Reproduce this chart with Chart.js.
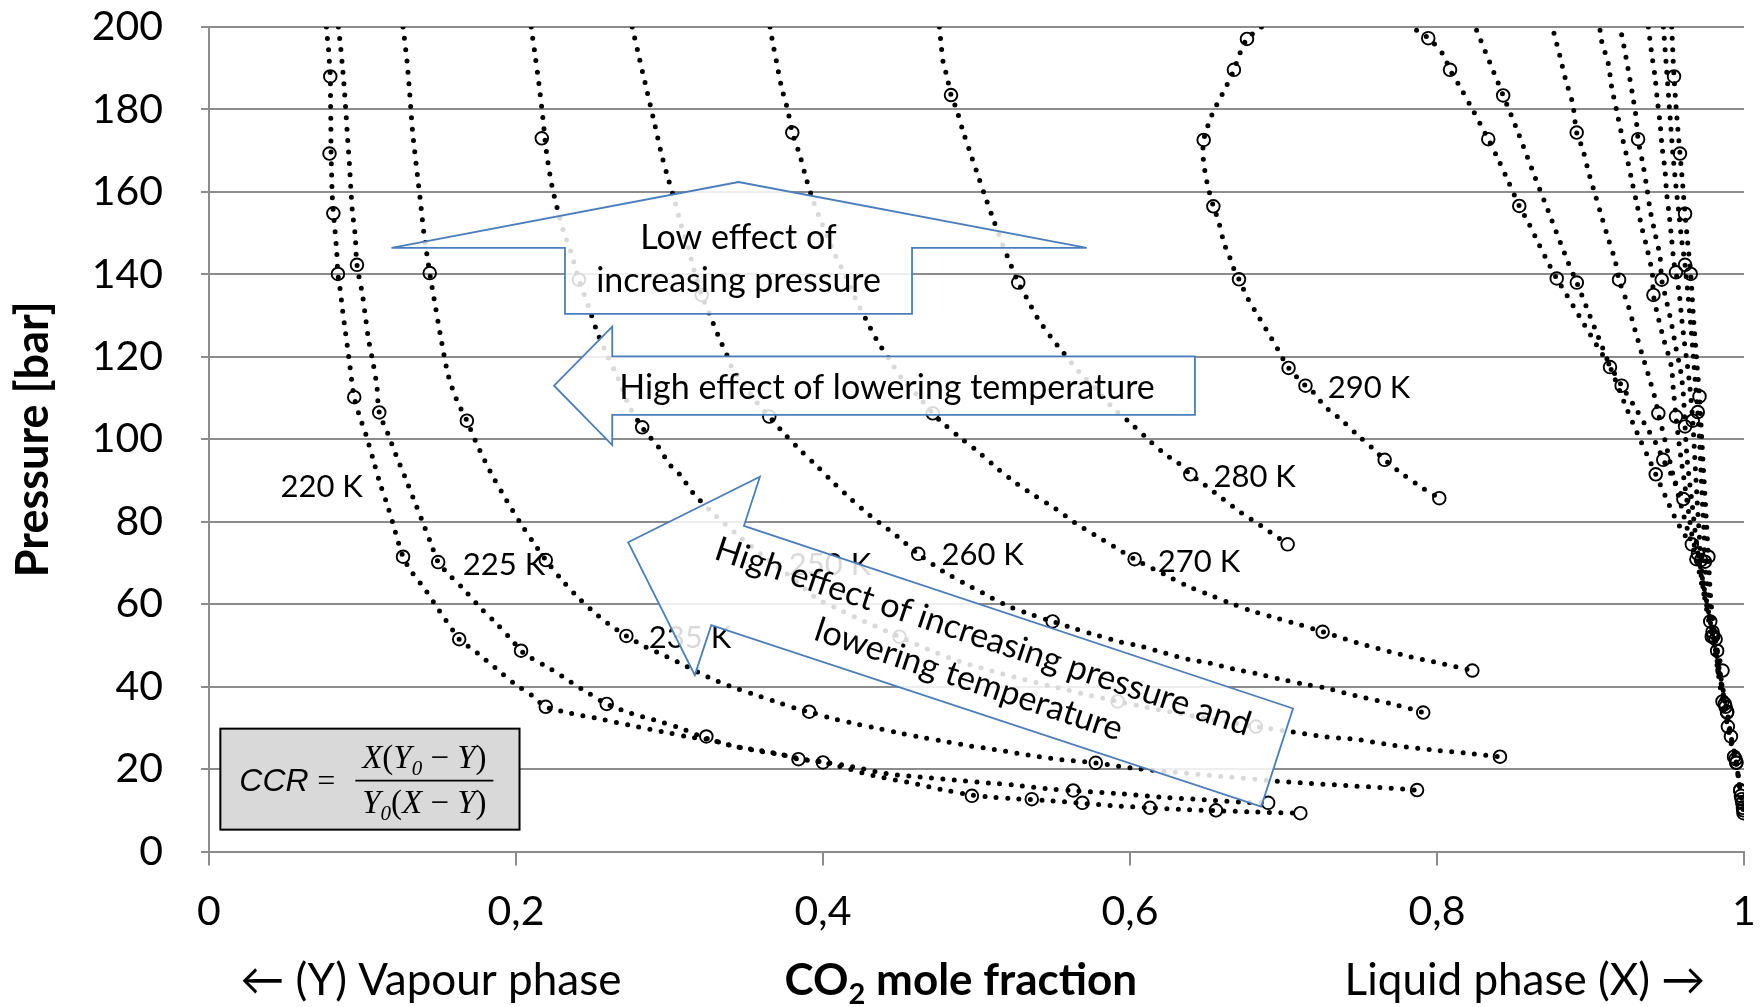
<!DOCTYPE html>
<html><head><meta charset="utf-8">
<script src="https://cdn.jsdelivr.net/npm/chart.js@4.4.1/dist/chart.umd.min.js"></script>
<style>html,body{margin:0;padding:0;background:#fff;}#wrap{width:1763px;height:1007px;position:relative;}canvas{display:block;}</style>
</head><body><div id="wrap"><canvas id="c" width="1763" height="1007"></canvas></div>
<script>
// ---------- DATA (x = CO2 mole fraction, p = pressure in bar) ----------
const temperatures = ['220 K','225 K','235 K','250 K','260 K','270 K','280 K','290 K'];
const xTicks = [0,0.2,0.4,0.6,0.8,1];
const yTicks = [0,20,40,60,80,100,120,140,160,180,200];

// vapour branch, model (dotted line)
const vap220Line = [[.0765,200],[.0772,197],[.078,194],[.0785,191],[.079,188],[.0792,182],[.0794,176],[.0795,170],[.0799,164],[.0803,159],[.081,155],[.082,151],[.0832,145.5],[.084,140],[.0852,137],[.087,131.4],[.089,125.7],[.091,120.1],[.093,114.2],[.0946,110.2],[.0978,105.9],[.1026,100.7],[.107,95],[.1114,89.3],[.1164,83.8],[.1207,78.4],[.1264,71.5],[.1319,67.9],[.1413,63.3],[.15,58.4],[.1588,53.7],[.163,51.5],[.175,48.1],[.1867,44.5],[.1987,40.8],[.2112,37.6],[.2194,35.1],[.231,33.9],[.254,32.2],[.276,30.5],[.299,28.8],[.314,27.7],[.324,27.3],[.344,25.4],[.367,24],[.384,22.6],[.40,21.6],[.411,20.6],[.434,18.3],[.457,16.7],[.479,14.9],[.497,13.7],[.51,13.2],[.526,12.8],[.545,12.4],[.569,11.7],[.59,11.1],[.613,10.6],[.635,10.2],[.656,9.9],[.68,9.6],[.711,9.3]];
const vap225Line = [[.0843,200],[.0857,195.3],[.0872,189.4],[.0884,183.7],[.0894,178.1],[.0904,172.4],[.0915,166.6],[.0924,160.9],[.0934,155.3],[.0952,149.6],[.0964,142.3],[.0999,135.2],[.1019,129.8],[.1039,124.3],[.1069,118.5],[.1094,112.8],[.1109,106.5],[.1164,101.5],[.1218,96.2],[.1276,90.9],[.1331,85.7],[.1388,80.3],[.1444,74.9],[.1493,70.2],[.155,67.7],[.1663,63.5],[.1763,59.3],[.1875,55.2],[.1975,51.2],[.2033,48.7],[.21,46.9],[.2217,44.5],[.2354,41.2],[.2481,38.2],[.2591,35.8],[.275,33.5],[.29,31.9],[.306,30.1],[.318,28.3],[.336,26.1],[.359,24.3],[.374,23.4],[.384,22.4],[.40,21.7],[.419,20.6],[.441,18.9],[.463,18.1],[.486,17.3],[.509,16.6],[.525,16.1],[.547,15.2],[.563,14.8],[.594,14],[.624,13.1],[.655,12.4],[.677,11.9],[.69,11.8]];
const vap235Line = [[.1264,200],[.1289,192],[.1309,183.2],[.1326,174.7],[.1351,166.2],[.1376,158.1],[.14,150],[.1438,140.3],[.1475,132.2],[.1513,124.1],[.1558,115.6],[.1613,109.6],[.168,104.5],[.1738,99.4],[.1837,91.8],[.1937,85.3],[.2037,79.2],[.2124,74.4],[.2194,70.7],[.23,65.8],[.24,61.8],[.25,58.3],[.26,55.3],[.2719,52.3],[.284,49.7],[.298,47.3],[.311,44.9],[.3253,42.3],[.34,40],[.3546,38.2],[.3687,36.4],[.384,34.5],[.391,33.9],[.4057,32.3],[.4198,31.1],[.435,29.9],[.45,28.7],[.4654,27.6],[.4806,26.6],[.4958,25.6],[.511,24.8],[.5337,23.4],[.555,22.3],[.5777,21.5],[.602,20.2],[.63,19.2],[.66,18.2],[.694,17.1],[.717,16.5],[.741,16],[.763,15.5],[.787,14.9]];
const vap250Line = [[.2099,200],[.2125,193],[.215,186],[.2175,178],[.2198,169.8],[.2233,161.7],[.227,155.8],[.231,150.4],[.236,145.2],[.241,138.7],[.248,131.4],[.253,125.9],[.259,120.7],[.266,115.2],[.274,107.9],[.2822,102.9],[.2873,100.5],[.2927,98.2],[.3003,93.8],[.3068,91.4],[.3155,86.9],[.33,81.5],[.345,76.6],[.36,72],[.375,67.8],[.39,63.2],[.396,61.3],[.411,58.6],[.427,55.8],[.4498,52.1],[.47,48.8],[.49,46],[.51,43.8],[.53,41.8],[.55,40],[.57,38.2],[.592,36.4],[.61,35],[.63,33.6],[.65,32.3],[.665,31.3],[.682,30.3],[.704,29.1],[.726,27.9],[.749,27.1],[.771,25.8],[.798,24.6],[.8205,23.8],[.841,23.0]];
const vap260Line = [[.2757,200],[.28,193],[.285,185],[.29,177],[.295,168.8],[.299,163.4],[.3035,157.7],[.3075,152],[.312,146.8],[.316,141.1],[.321,135],[.326,130.4],[.332,124.9],[.338,119.9],[.341,117.2],[.348,113.6],[.354,110.4],[.359,107.9],[.365,105.5],[.3744,101.5],[.385,97.4],[.396,93.5],[.4067,89.5],[.4177,85.7],[.43,81.7],[.4485,76.4],[.462,72.2],[.4785,67.9],[.492,65.1],[.5046,62.6],[.519,59.8],[.533,57.8],[.5496,55.8],[.563,54.2],[.578,52.5],[.593,50.9],[.608,49.7],[.623,48.1],[.638,46.6],[.652,45.7],[.667,44.3],[.683,43.1],[.698,41.8],[.713,40.6],[.728,39.6],[.749,37.6],[.771,35.8],[.791,33.7]];
const vap270Line = [[.3655,200],[.367,196.7],[.37,191],[.373,185.4],[.377,179.9],[.380,174.4],[.385,168.8],[.389,163.3],[.3935,158],[.399,152.6],[.408,144.6],[.415,139.5],[.421,134.2],[.428,129.1],[.435,124.1],[.443,119.5],[.452,114.4],[.462,110.4],[.4715,106.3],[.477,104.3],[.4897,100.3],[.5016,96.8],[.5134,93],[.526,89.3],[.538,86.3],[.551,83.3],[.564,79.8],[.577,76.8],[.5895,74],[.603,70.9],[.623,67.1],[.638,64.3],[.652,62.2],[.6656,60.2],[.6805,58.2],[.6955,56.6],[.7105,55],[.7255,53.3],[.753,50.1],[.782,47.3],[.8127,44.8],[.823,43.9]];
const vap280Line = [[.4758,200],[.4767,196.7],[.4784,191.1],[.4806,188.3],[.4834,183.5],[.4871,179.9],[.4914,174.5],[.4962,169.2],[.5012,163.7],[.5062,158.3],[.5114,152.9],[.5166,147.6],[.5225,142.2],[.5272,138],[.5322,134.6],[.5398,129.4],[.5485,124.8],[.5533,122.5],[.5627,118.2],[.5679,115.9],[.5783,112],[.5891,107.5],[.6005,103.9],[.612,99.9],[.6234,96.2],[.6303,94.6],[.6393,91.5],[.6474,89.3],[.6537,87.5],[.66,85.7],[.672,82.3],[.685,79.1],[.6977,75.8],[.7027,74.5]];
const vap290Line = [[.6856,200],[.6762,197.1],[.6717,193.7],[.6677,189.6],[.6627,185.6],[.6558,180.6],[.6525,177.9],[.65,175.2],[.648,172.6],[.6475,169.8],[.648,167],[.6492,164.2],[.6508,161.3],[.6543,156.5],[.6576,153],[.6614,147.4],[.6645,144.6],[.667,141.9],[.671,138.8],[.6767,134.2],[.6843,129.4],[.6924,124.3],[.6962,121.9],[.7033,117.3],[.7143,113],[.7199,111.2],[.725,108.8],[.7306,106.7],[.7365,105.1],[.748,101.1],[.7595,97.3],[.7659,95],[.7781,91.4],[.7908,88.1],[.8015,85.7]];

// vapour branch, measured (open circles)
const vap220Pts = [[.079,188],[.0785,169.3],[.081,154.8],[.084,140.1],[.0946,110.2],[.1264,71.5],[.163,51.5],[.2194,35.1],[.324,27.9],[.40,21.6],[.497,13.5],[.536,12.7],[.569,11.8],[.613,10.6],[.656,10.0],[.711,9.3]];
const vap225Pts = [[.0964,142.3],[.1109,106.5],[.1493,70.2],[.2033,48.7],[.2591,35.8],[.384,22.4],[.563,14.8],[.69,11.8]];
const vap235Pts = [[.1438,140.3],[.168,104.5],[.2194,70.7],[.2719,52.3],[.391,33.9],[.5777,21.5],[.787,14.9]];
const vap250Pts = [[.2168,173],[.241,138.7],[.2822,102.9],[.4498,52.1],[.592,36.4],[.682,30.3],[.841,23.0]];
const vap260Pts = [[.321,135],[.365,105.5],[.462,72.2],[.5496,55.8],[.791,33.7]];
const vap270Pts = [[.380,174.4],[.4715,106.3],[.603,70.9],[.7255,53.3],[.823,43.9]];
const vap280Pts = [[.4834,183.5],[.5272,138],[.6393,91.5],[.7027,74.5]];
const vap290Pts = [[.6762,197.1],[.6677,189.6],[.648,172.6],[.6543,156.5],[.671,138.8],[.7033,117.3],[.7143,113],[.7659,95],[.8015,85.7]];

// liquid branch, model (dotted line)
const liq220Line = [[.9529,200],[.9544,188],[.9563,178],[.9583,169.3],[.96,162],[.9616,154.7],[.9635,147],[.9653,140.1],[.967,130],[.969,120],[.971,110.4],[.9725,100],[.974,90],[.9755,80],[.9768,71.5],[.978,63],[.980,55],[.9815,51.5],[.984,44],[.9865,37],[.988,35.1],[.990,30.5],[.9915,27.9],[.994,23.5],[.995,21.6],[.997,16.5],[.998,13.5],[.9985,12.7],[.999,11.8],[.9993,10.6],[.9995,10],[.9997,9.3]];
const liq225Line = [[.9475,200],[.9495,190],[.9515,180],[.9535,170],[.9555,162],[.9575,155],[.9595,148],[.9616,142.3],[.9635,135],[.9655,127],[.967,120],[.9685,113],[.9699,106.6],[.971,100],[.972,92],[.973,84],[.974,77],[.9745,70.3],[.977,62],[.9795,55],[.9825,48.7],[.985,42],[.9875,35.8],[.990,30],[.9925,26],[.9945,22.4],[.9965,17.5],[.9975,14.8],[.9985,12.8],[.999,11.8]];
const liq235Line = [[.9377,200],[.9398,193.7],[.942,188],[.9435,182.4],[.9453,176.7],[.9466,171],[.9485,165.4],[.9496,159.7],[.9514,154],[.9529,148.4],[.9544,142.7],[.9557,140.5],[.9579,135],[.9594,129.4],[.9611,123.7],[.9631,118],[.9648,112.4],[.9666,104.5],[.968,95],[.9695,85],[.971,76],[.972,70.7],[.974,64],[.9775,57],[.980,52.3],[.983,45],[.986,39],[.989,33.9],[.9915,28],[.994,23.5],[.995,21.5],[.9965,17.5],[.9975,14.9]];
const liq250Line = [[.9203,198.1],[.9218,195.3],[.9246,189.6],[.9272,184],[.9296,178.3],[.931,172.8],[.934,167],[.9366,161.3],[.9388,155.7],[.942,150],[.9453,144.3],[.9464,138.7],[.9496,133.4],[.9529,127.8],[.9557,122.1],[.9588,116.4],[.9605,110.8],[.9616,103.1],[.963,95],[.966,85],[.969,75],[.9725,66],[.976,58],[.979,52.1],[.9825,45],[.986,36.4],[.9895,30.3],[.9915,26.5],[.9935,23]];
const liq260Line = [[.9062,199.2],[.9073,196.5],[.9116,191.1],[.9138,185.4],[.917,179.8],[.9203,173.9],[.9236,168.6],[.9268,162.9],[.9301,157.3],[.9333,151.6],[.937,146],[.9403,140.1],[.941,135],[.9442,129.4],[.9481,123.7],[.9525,118],[.954,112],[.9557,105.5],[.958,98],[.961,90],[.964,82],[.967,75],[.970,72.2],[.9735,65],[.9765,59],[.978,55.8],[.981,50],[.984,44],[.9865,39],[.989,33.7]];
const liq270Line = [[.8762,198.5],[.8801,192.9],[.8838,187.2],[.8884,181.4],[.891,174.4],[.8949,170.4],[.8986,165],[.9029,159.5],[.9073,154],[.9116,148.6],[.916,143.4],[.9186,138.7],[.9247,132.2],[.929,126.5],[.9333,121],[.9377,115.6],[.942,110],[.9442,106.3],[.949,99],[.954,91],[.959,84],[.964,77],[.969,70.9],[.9735,63],[.9775,57],[.9795,53.3],[.9835,47.5],[.986,43.9]];
const liq280Line = [[.8258,199.2],[.8345,191.3],[.8431,183.4],[.852,175.2],[.8628,164.6],[.874,153.9],[.885,143.3],[.8911,138],[.899,130.5],[.907,123],[.915,115.5],[.923,108],[.931,101],[.939,94.5],[.9425,91.5],[.949,86],[.955,81],[.961,77],[.966,74.5]];
const liq290Line = [[.7867,199.2],[.7943,197.3],[.8037,193.5],[.8085,189.6],[.8145,185.8],[.8221,180.7],[.829,175.9],[.8334,172.8],[.8395,168.2],[.846,162.9],[.8536,156.6],[.8595,152.6],[.866,147.6],[.8732,142.3],[.878,139],[.8845,135],[.8925,130],[.9003,125.1],[.9084,120.2],[.9127,117.8],[.9203,113],[.9286,108],[.9362,103.1],[.9435,98.4],[.9474,95],[.9539,90.6],[.9605,85.5]];

// liquid branch, measured (open circles)
const liq220Pts = [[.9544,188],[.9583,169.3],[.9616,154.7],[.9653,140.1],[.971,110.4],[.9768,71.5],[.9815,51.5],[.988,35.1],[.9915,27.9],[.995,21.6],[.998,13.5],[.9985,12.7],[.999,11.8],[.9993,10.6],[.9995,10],[.9997,9.3]];
const liq225Pts = [[.9616,142.3],[.9699,106.6],[.9745,70.3],[.9825,48.7],[.9875,35.8],[.9945,22.4],[.9975,14.8],[.999,11.8]];
const liq235Pts = [[.9557,140.5],[.9666,104.5],[.972,70.7],[.980,52.3],[.989,33.9],[.995,21.5],[.9975,14.9]];
const liq250Pts = [[.931,172.8],[.9464,138.7],[.9616,103.1],[.979,52.1],[.986,36.4],[.9895,30.3],[.9935,23]];
const liq260Pts = [[.941,135],[.9557,105.5],[.970,72.2],[.978,55.8],[.989,33.7]];
const liq270Pts = [[.891,174.4],[.9186,138.7],[.9442,106.3],[.969,70.9],[.9795,53.3],[.986,43.9]];
const liq280Pts = [[.8431,183.4],[.8911,138],[.9425,91.5],[.966,74.5]];
const liq290Pts = [[.7943,197.3],[.8085,189.6],[.8334,172.8],[.8536,156.6],[.878,139],[.9127,117.5],[.9203,113],[.9474,95],[.9605,85.5]];

// ---------- LAYOUT / ANNOTATION (positions in axis units) ----------
const modelLines = [vap220Line,vap225Line,vap235Line,vap250Line,vap260Line,vap270Line,vap280Line,vap290Line,
                    liq220Line,liq225Line,liq235Line,liq250Line,liq260Line,liq270Line,liq280Line,liq290Line];
const measured = [vap220Pts,vap225Pts,vap235Pts,vap250Pts,vap260Pts,vap270Pts,vap280Pts,vap290Pts,
                  liq220Pts,liq225Pts,liq235Pts,liq250Pts,liq260Pts,liq270Pts,liq280Pts,liq290Pts];
const labelPos = [[.0734,88.5],[.1922,69.5],[.3134,51.7],[.4046,69.5],[.504,71.9],[.645,70.3],[.6812,90.9],[.7557,112.4]];

const arrowUp = [[.1189,146.4],[.345,162.4],[.5718,146.4],[.458,146.4],[.458,130.4],[.2319,130.4],[.2319,146.4]];
const arrowLeft = [[.2248,113],[.2627,127.3],[.2627,120.1],[.6423,120.1],[.6423,105.9],[.2627,105.9],[.2627,98.6]];
const arrowDiag = [[.2731,75],[.3589,90.9],[.3485,79],[.7062,34.7],[.6855,10.9],[.3272,54.9],[.3165,42.8]];

const toXY = a => a.map(([x,y]) => ({x, y}));
const datasets = [];
modelLines.forEach(d => datasets.push({
  data: toXY(d), showLine: true, borderColor: '#000', borderWidth: 5,
  borderDash: [0, 11.4], borderCapStyle: 'round', pointRadius: 0, pointHoverRadius: 0, tension: 0.3, fill: false
}));
measured.forEach(d => datasets.push({
  data: toXY(d), showLine: false, pointStyle: 'circle', pointRadius: 6.3, pointBorderWidth: 1.9,
  pointBorderColor: '#000', pointBackgroundColor: 'rgba(0,0,0,0)', borderColor: '#000'
}));

const FONT = 'Lato';
const annot = {
  id: 'annot',
  afterDatasetsDraw(chart) {
    const ctx = chart.ctx, sx = chart.scales.x, sy = chart.scales.y;
    const X = v => sx.getPixelForValue(v), Y = v => sy.getPixelForValue(v);
    ctx.save();
    // temperature labels
    ctx.fillStyle = '#000'; ctx.textAlign = 'center'; ctx.textBaseline = 'middle';
    ctx.font = '31px ' + FONT;
    temperatures.forEach((t, i) => ctx.fillText(t, X(labelPos[i][0]), Y(labelPos[i][1])));
    // arrows
    [arrowUp, arrowLeft, arrowDiag].forEach(poly => {
      ctx.beginPath();
      poly.forEach(([x, y], i) => i ? ctx.lineTo(X(x), Y(y)) : ctx.moveTo(X(x), Y(y)));
      ctx.closePath();
      ctx.fillStyle = 'rgba(255,255,255,0.85)'; ctx.fill();
      ctx.strokeStyle = '#4a7ebb'; ctx.lineWidth = 1.8; ctx.lineJoin = 'miter'; ctx.stroke();
    });
    ctx.fillStyle = '#000'; ctx.font = '34px ' + FONT; ctx.textAlign = 'center'; ctx.textBaseline = 'middle';
    ctx.fillText('Low effect of', X(.345), Y(148.8));
    ctx.fillText('increasing pressure', X(.345), Y(138.4));
    ctx.fillText('High effect of lowering temperature', X(.4417), Y(112.5));
    // diagonal text
    const ax = X(arrowDiag[2][0]), ay = Y(arrowDiag[2][1]), bx = X(arrowDiag[3][0]), by = Y(arrowDiag[3][1]);
    const ang = Math.atan2(by - ay, bx - ax);
    ctx.save();
    ctx.translate(X(.4997), Y(47));
    ctx.rotate(ang);
    ctx.fillText('High effect of increasing pressure and', 0, -22);
    ctx.fillText('lowering temperature', 0, 23);
    ctx.restore();
    // CCR box
    const bx0 = X(.0074), by0 = Y(29.8), bx1 = X(.2023), by1 = Y(5.3);
    ctx.fillStyle = '#d9d9d9'; ctx.fillRect(bx0, by0, bx1 - bx0, by1 - by0);
    ctx.strokeStyle = '#000'; ctx.lineWidth = 2; ctx.strokeRect(bx0, by0, bx1 - bx0, by1 - by0);
    ctx.fillStyle = '#000'; ctx.textAlign = 'left'; ctx.textBaseline = 'alphabetic';
    ctx.font = 'italic 32px "Liberation Sans"';
    ctx.fillText('CCR', bx0 + 19, by0 + 62);
    ctx.font = '32px "Liberation Serif"';
    ctx.fillText('=', bx0 + 97, by0 + 62);
    const fnt = (t, sub) => sub ? 'italic 21px "Liberation Serif"' : ((t === ' − ' || t === '(' || t === ')') ? '33px "Liberation Serif"' : 'italic 33px "Liberation Serif"');
    const seq = (parts, x, y) => {
      parts.forEach(([t, sub]) => {
        ctx.font = fnt(t, sub);
        ctx.fillText(t, x, sub ? y + 7 : y);
        x += ctx.measureText(t).width;
      });
    };
    const num = [['X'],['('],['Y'],['0',1],[' − '],['Y'],[')']];
    const den = [['Y'],['0',1],['('],['X'],[' − '],['Y'],[')']];
    const w = parts => { let x = 0; parts.forEach(([t, sub]) => { ctx.font = fnt(t, sub); x += ctx.measureText(t).width; }); return x; };
    const fc = bx0 + 204;
    seq(num, fc - w(num) / 2, by0 + 39);
    seq(den, fc - w(den) / 2, by0 + 84);
    ctx.beginPath(); ctx.moveTo(bx0 + 135, by0 + 52); ctx.lineTo(bx0 + 273, by0 + 52); ctx.lineWidth = 1.6; ctx.stroke();
    // x-axis title (three parts)
    const ty = sy.bottom + 129;
    ctx.textBaseline = 'middle'; ctx.textAlign = 'center'; ctx.fillStyle = '#000';
    ctx.font = '44px ' + FONT;
    ctx.fillText('\u2190 (Y) Vapour phase', X(.1445), ty);
    ctx.fillText('Liquid phase (X) \u2192', X(.8573), ty);
    ctx.font = 'bold 44px ' + FONT;
    const p1 = 'CO', p3 = ' mole fraction';
    const w1 = ctx.measureText(p1).width, w3 = ctx.measureText(p3).width;
    ctx.font = 'bold 29px ' + FONT; const w2 = ctx.measureText('2').width;
    let sxp = X(.4898) - (w1 + w2 + w3) / 2;
    ctx.textAlign = 'left';
    ctx.font = 'bold 44px ' + FONT; ctx.fillText(p1, sxp, ty); sxp += w1;
    ctx.font = 'bold 29px ' + FONT; ctx.fillText('2', sxp, ty + 14); sxp += w2;
    ctx.font = 'bold 44px ' + FONT; ctx.fillText(p3, sxp, ty);
    ctx.restore();
  }
};

Chart.defaults.font.family = FONT;
new Chart(document.getElementById('c'), {
  type: 'scatter',
  data: { datasets },
  options: {
    responsive: false, animation: false, devicePixelRatio: 1,
    layout: { padding: { top: 27, right: 19, left: 0, bottom: 0 } },
    plugins: { legend: { display: false }, tooltip: { enabled: false } },
    scales: {
      x: {
        type: 'linear', min: 0, max: 1,
        afterBuildTicks: s => { s.ticks = xTicks.map(v => ({ value: v })); },
        afterFit: s => { s.height = 155.5; s.paddingLeft = 0; s.paddingRight = 0; },
        ticks: { color: '#000', font: { size: 41 }, padding: 22, maxRotation: 0,
                 callback: v => (v === 0 || v === 1) ? String(v) : v.toFixed(1).replace('.', ',') },
        grid: { drawOnChartArea: false, drawTicks: true, tickLength: 14, color: '#8c8c8c', lineWidth: 2 },
        border: { display: true, color: '#8c8c8c', width: 2 }
      },
      y: {
        type: 'linear', min: 0, max: 200,
        afterBuildTicks: s => { s.ticks = yTicks.map(v => ({ value: v })); },
        afterFit: s => { s.width = 209; s.paddingTop = 0; s.paddingBottom = 0; },
        ticks: { color: '#000', font: { size: 41 }, padding: 38 },
        grid: { color: '#8c8c8c', lineWidth: 2, tickLength: 8 },
        border: { display: true, color: '#8c8c8c', width: 2 },
        title: { display: true, text: 'Pressure [bar]', color: '#000', font: { size: 45, weight: 'bold' }, padding: { top: 6, bottom: 0 } }
      }
    }
  },
  plugins: [annot]
});
</script>
</body></html>
